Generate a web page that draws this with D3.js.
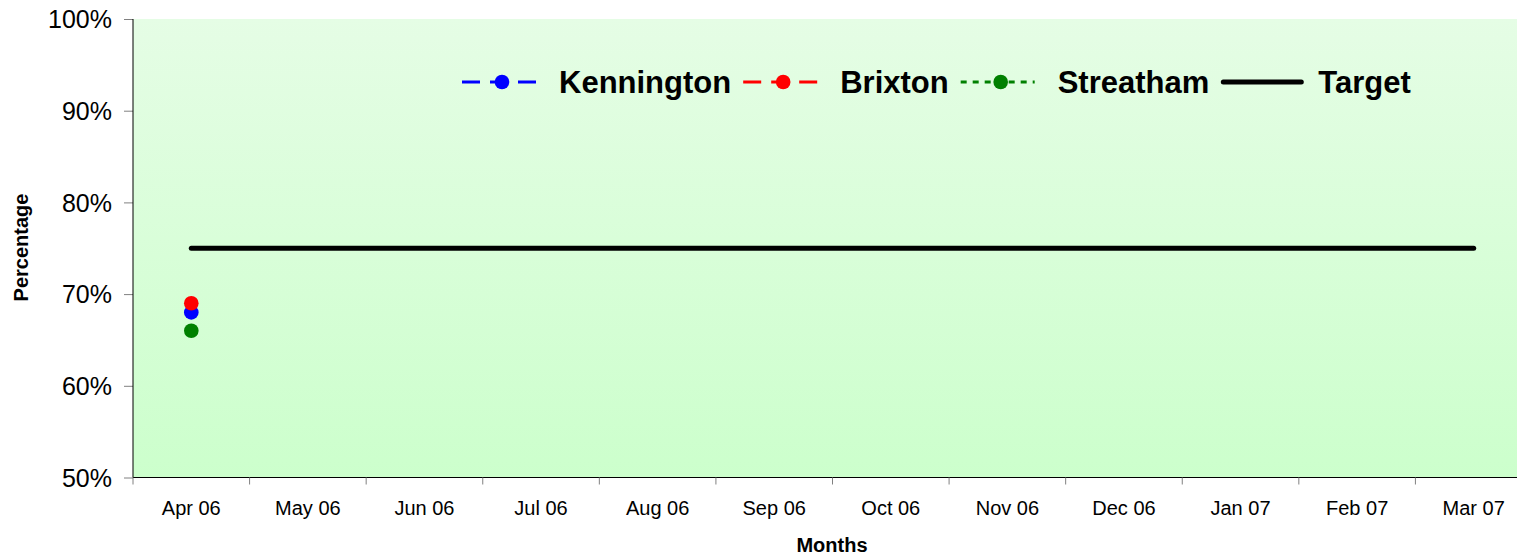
<!DOCTYPE html>
<html>
<head>
<meta charset="utf-8">
<script src="https://cdn.jsdelivr.net/npm/d3@7"></script>
<style>
  body { margin: 0; background: #fff; }
  svg { display: block; font-family: Arial, 'Liberation Sans', sans-serif; }
</style>
</head>
<body>
<svg id="chart" width="1517" height="556"></svg>
<script>
// data
const months = ['Apr 06','May 06','Jun 06','Jul 06','Aug 06','Sep 06','Oct 06','Nov 06','Dec 06','Jan 07','Feb 07','Mar 07'];
const kennington = [0.68, null, null, null, null, null, null, null, null, null, null, null];
const brixton    = [0.69, null, null, null, null, null, null, null, null, null, null, null];
const streatham  = [0.66, null, null, null, null, null, null, null, null, null, null, null];
const target     = [0.75, 0.75, 0.75, 0.75, 0.75, 0.75, 0.75, 0.75, 0.75, 0.75, 0.75, 0.75];
const yTicks = [0.5, 0.6, 0.7, 0.8, 0.9, 1.0];

const series = [
  {name: 'Kennington', values: kennington, color: '#0000ff', dash: '18,10', marker: true},
  {name: 'Brixton',    values: brixton,    color: '#ff0000', dash: '18,10', marker: true},
  {name: 'Streatham',  values: streatham,  color: '#008000', dash: '6,6',   marker: true},
  {name: 'Target',     values: target,     color: '#000000', dash: null,    marker: false}
];

const svg = d3.select('#chart');
const marginL = 133, marginT = 19, plotBottom = 477.5;
const plotW = 1399; // plot runs past the right edge of the picture
const plotH = plotBottom - marginT;

const defs = svg.append('defs');
const grad = defs.append('linearGradient').attr('id','bg').attr('x1',0).attr('y1',0).attr('x2',0).attr('y2',1);
grad.append('stop').attr('offset','0%').attr('stop-color','#e5fde5');
grad.append('stop').attr('offset','100%').attr('stop-color','#ccffcc');

let g = svg.append('g').attr('transform','translate('+marginL+','+marginT+')');

g.append('rect').attr('width',plotW).attr('height',plotH).attr('fill','url(#bg)');

let x = d3.scaleBand().domain(months).range([0, plotW]);
let y = d3.scaleLinear().domain([0.5, 1]).range([plotH, 0]);
const cx = m => x(m) + x.bandwidth()/2;

// y axis
let yAxis = d3.axisLeft(y).tickValues(yTicks).tickFormat(d3.format('.0%')).tickSize(9).tickPadding(12);
let ya = g.append('g').call(yAxis);
ya.select('.domain').remove();
ya.selectAll('line').attr('stroke','#808080');
ya.selectAll('text').style('font-size','25px').attr('fill','#000').attr('dy','0.35em');
g.append('line').attr('x1',0).attr('x2',0).attr('y1',0).attr('y2',plotH).attr('stroke','#000');

// x axis: ticks between the categories
let xa = g.append('g').attr('transform','translate(0,'+plotH+')');
xa.append('line').attr('x1',0).attr('x2',plotW).attr('stroke','#000');
xa.selectAll('line.tk').data(months.concat(['end'])).enter().append('line')
  .attr('class','tk')
  .attr('x1',(d,i) => i < months.length ? x(d) : plotW)
  .attr('x2',(d,i) => i < months.length ? x(d) : plotW)
  .attr('y1',0).attr('y2',7).attr('stroke','#808080');
xa.selectAll('text').data(months).enter().append('text')
  .attr('x', d => cx(d)).attr('y', 37)
  .attr('text-anchor','middle').style('font-size','20px').text(d => d);

// axis titles
svg.append('text').attr('x',832).attr('y',552).attr('text-anchor','middle')
  .style('font-size','20px').style('font-weight','bold').text('Months');
svg.append('text').attr('transform','translate(28,247.5) rotate(-90)').attr('text-anchor','middle')
  .style('font-size','20px').style('font-weight','bold').text('Percentage');

// series
let marks = g.append('g');
series.forEach(s => {
  const pts = months.map((m,i) => ({m: m, v: s.values[i]})).filter(d => d.v != null);
  const line = d3.line().x(d => cx(d.m)).y(d => y(d.v));
  if (s.marker) {
    marks.append('path').datum(pts).attr('d', line).attr('fill','none')
      .attr('stroke', s.color).attr('stroke-width',3).attr('stroke-dasharray', s.dash);
    marks.selectAll('circle.c'+s.name).data(pts).enter().append('circle')
      .attr('cx', d => cx(d.m)).attr('cy', d => y(d.v)).attr('r',7.3).attr('fill', s.color);
  } else {
    marks.append('path').datum(pts).attr('d', line).attr('fill','none')
      .attr('stroke', s.color).attr('stroke-width',5).attr('stroke-linecap','round');
  }
});

// legend
let legend = svg.append('g').attr('id','legend');
let lx = 462;
const ly = 82;
series.forEach(s => {
  const len = s.marker ? 74 : 80;
  if (s.marker) {
    legend.append('line').attr('x1',lx).attr('x2',lx+len).attr('y1',ly).attr('y2',ly)
      .attr('stroke',s.color).attr('stroke-width',3).attr('stroke-dasharray',s.dash);
    legend.append('circle').attr('cx',lx+40).attr('cy',ly).attr('r',7.3).attr('fill',s.color);
  } else {
    legend.append('line').attr('x1',lx+2).attr('x2',lx+len).attr('y1',ly).attr('y2',ly)
      .attr('stroke',s.color).attr('stroke-width',5).attr('stroke-linecap','round');
  }
  let t = legend.append('text').attr('x',lx+97).attr('y',ly+11)
    .style('font-size','31px').style('font-weight','bold').text(s.name);
  lx = lx + 97 + t.node().getComputedTextLength() + 12;
});
</script>
</body>
</html>
